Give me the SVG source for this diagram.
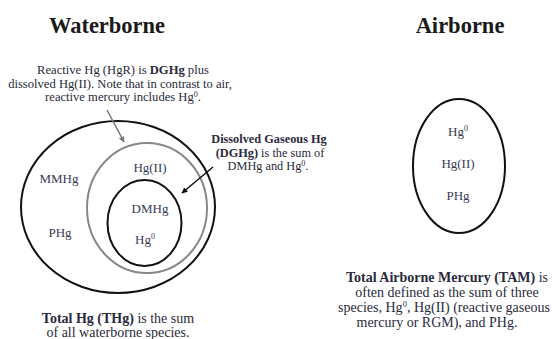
<svg xmlns="http://www.w3.org/2000/svg" width="552" height="339" viewBox="0 0 552 339">
<defs>
<style>
text{font-family:"Liberation Serif","Times New Roman",serif;fill:#2a2a3c;}
.title{font-size:22.5px;font-weight:bold;fill:#1a1a1a;text-anchor:middle;}
.note{font-size:12.6px;text-anchor:middle;}
.dg{font-size:12.3px;text-anchor:middle;}
.lab{font-size:13px;text-anchor:middle;fill:#3a3a55;}
.cap{font-size:14px;text-anchor:middle;}
.b{font-weight:bold;}
.blk{fill:none;stroke:#111;stroke-width:2;}
.gry{fill:none;stroke:#888;stroke-width:2;}
</style>
<marker id="ahB" viewBox="0 0 10 10" refX="9" refY="5" markerWidth="6" markerHeight="6" orient="auto" markerUnits="userSpaceOnUse"><path d="M0,0 L10,5 L0,10 z" fill="#111"/></marker>
<marker id="ahG" viewBox="0 0 10 10" refX="9" refY="5" markerWidth="6" markerHeight="6" orient="auto" markerUnits="userSpaceOnUse"><path d="M0,0 L10,5 L0,10 z" fill="#777"/></marker>
</defs>
<rect width="552" height="339" fill="#fff"/>

<text class="title" x="107" y="33">Waterborne</text>
<text class="title" x="460" y="33">Airborne</text>

<g id="note-hgr">
<text class="note" x="123" y="74">Reactive Hg (HgR) is <tspan class="b">DGHg</tspan> plus</text>
<text class="note" x="120" y="87.5">dissolved Hg(II). Note that in contrast to air,</text>
<text class="note" x="123" y="101">reactive mercury includes Hg<tspan font-size="8" dy="-4">0</tspan><tspan dy="4">.</tspan></text>
</g>

<g id="note-dghg">
<text class="dg b" x="269" y="143">Dissolved Gaseous Hg</text>
<text class="dg" x="270" y="156.5"><tspan class="b">(DGHg)</tspan> is the sum of</text>
<text class="dg" x="268" y="170">DMHg and Hg<tspan font-size="8" dy="-4">0</tspan><tspan dy="4">.</tspan></text>
</g>

<g id="thg">
<ellipse class="blk" cx="118" cy="207" rx="97" ry="86"/>
<text class="lab" x="59" y="183">MMHg</text>
<text class="lab" x="60" y="237">PHg</text>
</g>

<g id="hgr">
<ellipse class="gry" cx="147" cy="208" rx="60" ry="65"/>
<text class="lab" x="150" y="172">Hg(II)</text>
</g>

<g id="dghg">
<ellipse class="blk" cx="144.5" cy="223" rx="37" ry="43"/>
<text class="lab" x="150" y="213">DMHg</text>
<text class="lab" x="145" y="244">Hg<tspan font-size="8" dy="-5">0</tspan></text>
</g>

<g id="thg-caption">
<text class="cap" x="118" y="323"><tspan class="b">Total Hg (THg)</tspan> is the sum</text>
<text class="cap" x="118" y="337">of all waterborne species.</text>
</g>

<g id="tam">
<ellipse class="blk" cx="459" cy="166" rx="46" ry="67"/>
<text class="lab" x="458" y="136">Hg<tspan font-size="8" dy="-5">0</tspan></text>
<text class="lab" x="458" y="168">Hg(II)</text>
<text class="lab" x="458" y="200">PHg</text>
</g>

<g id="tam-caption">
<text class="cap" x="447" y="282"><tspan class="b">Total Airborne Mercury (TAM)</tspan> is</text>
<text class="cap" x="447" y="297">often defined as the sum of three</text>
<text class="cap" x="444" y="312">species, Hg<tspan font-size="8.5" dy="-5">0</tspan><tspan dy="5">, Hg(II) (reactive gaseous</tspan></text>
<text class="cap" x="437" y="326.5">mercury or RGM), and PHg.</text>
</g>

<g id="connectors">
<line x1="107" y1="110" x2="124" y2="142" stroke="#777" stroke-width="1.5" marker-end="url(#ahG)"/>
<line x1="213" y1="167" x2="182" y2="193" stroke="#111" stroke-width="1.5" marker-end="url(#ahB)"/>
</g>
</svg>
